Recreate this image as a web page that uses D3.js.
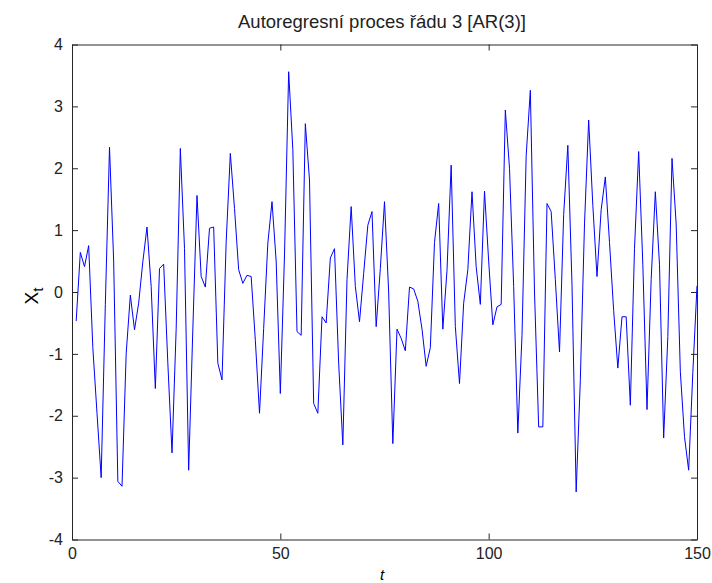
<!DOCTYPE html>
<html lang="cs">
<head>
    <meta charset="utf-8">
    <script src="https://cdn.jsdelivr.net/npm/d3@7"></script>
    <style>
        body { margin: 0; background: white; }
        text { font-family: "Liberation Sans", Arial, sans-serif; fill: #000; }
        .axis path, .axis line { stroke: #262626; stroke-width: 1px; }
        .axis text { font-size: 16px; fill: #222; }
        .series { fill: none; stroke: #0000ff; stroke-width: 1px; }
    </style>
</head>
<body>
<script>
    // hodnoty X_t pro t = 1..150
    const values = [
        -0.47, 0.64, 0.41, 0.75, -0.9, -1.96, -3.0, -0.2, 2.34, 0.5,
        -3.06, -3.14, -1.0, -0.05, -0.61, -0.18, 0.49, 1.05, 0.09, -1.56,
        0.38, 0.45, -1.15, -2.6, -0.6, 2.32, 0.7, -2.88, -0.6, 1.56,
        0.25, 0.08, 1.03, 1.05, -1.15, -1.42, 0.81, 2.24, 1.35, 0.36,
        0.14, 0.27, 0.25, -0.78, -1.96, -0.59, 0.79, 1.46, 0.5, -1.64,
        0.6, 3.56, 2.3, -0.64, -0.7, 2.72, 1.81, -1.8, -1.96, -0.4,
        -0.5, 0.55, 0.7, -1.15, -2.47, 0.2, 1.38, 0.09, -0.48, 0.3,
        1.08, 1.3, -0.56, 0.38, 1.46, 0.0, -2.45, -0.6, -0.75, -0.95,
        0.08, 0.05, -0.15, -0.6, -1.2, -0.9, 0.8, 1.43, -0.6, 0.35,
        2.05, -0.56, -1.48, -0.18, 0.36, 1.62, 0.41, -0.2, 1.63, 0.5,
        -0.53, -0.24, -0.2, 2.94, 2.0, 0.09, -2.28, -0.7, 2.2, 3.26,
        0.0, -2.18, -2.18, 1.43, 1.3, 0.2, -0.97, 1.25, 2.37, 0.11,
        -3.23, -1.42, 1.1, 2.78, 1.4, 0.25, 1.33, 1.86, 0.8, -0.3,
        -1.23, -0.4, -0.4, -1.83, 0.7, 2.27, 0.44, -1.9, 0.2, 1.62,
        0.44, -2.36, -0.72, 2.16, 1.1, -1.29, -2.34, -2.88, -1.3, 0.1
    ];
    const xTicks = [0, 50, 100, 150];
    const yTicks = [-4, -3, -2, -1, 0, 1, 2, 3, 4];
    const title = "Autoregresní proces řádu 3 [AR(3)]";

    const W = 712, H = 583;
    const pLeft = 72, pRight = 697, pTop = 44.5, pBottom = 539.5;

    let svg = d3.select("body").append("svg")
        .attr("width", W).attr("height", H);

    let x = d3.scaleLinear().domain([0, 150]).range([pLeft, pRight]);
    let y = d3.scaleLinear().domain([-4, 4]).range([pBottom, pTop]);
    let fmt = function (d) { return String(d); };   // obyčejný spojovník místo U+2212

    // osy - ticky dovnitř jako v MATLABu
    svg.append("g").attr("class", "axis")
        .attr("transform", "translate(0," + pBottom + ")")
        .call(d3.axisBottom(x).tickValues(xTicks).tickFormat(fmt).tickSizeInner(-6).tickSizeOuter(0).tickPadding(8));
    svg.append("g").attr("class", "axis")
        .attr("transform", "translate(0," + pTop + ")")
        .call(d3.axisTop(x).tickValues(xTicks).tickSizeInner(-6).tickSizeOuter(0).tickFormat(""));
    svg.append("g").attr("class", "axis")
        .attr("transform", "translate(" + pLeft + ",0)")
        .call(d3.axisLeft(y).tickValues(yTicks).tickFormat(fmt).tickSizeInner(-6).tickSizeOuter(0).tickPadding(9));
    svg.append("g").attr("class", "axis")
        .attr("transform", "translate(" + pRight + ",0)")
        .call(d3.axisRight(y).tickValues(yTicks).tickSizeInner(-6).tickSizeOuter(0).tickFormat(""));

    let line = d3.line()
        .x(function (d, i) { return x(i + 1); })
        .y(function (d) { return y(d); });

    svg.append("path").datum(values)
        .attr("class", "series")
        .attr("d", line);

    svg.append("text")
        .attr("x", 382).attr("y", 28)
        .attr("text-anchor", "middle")
        .style("font-size", "18.5px")
        .style("fill", "#222")
        .text(title);

    svg.append("text")
        .attr("x", 382).attr("y", 580)
        .attr("text-anchor", "middle")
        .style("font-size", "15px").style("font-style", "italic")
        .text("t");

    let yl = svg.append("text")
        .attr("transform", "translate(38," + (y(0) + 4) + ") rotate(-90)")
        .attr("text-anchor", "middle")
        .style("font-size", "19px");
    yl.append("tspan").text("X");
    yl.append("tspan").attr("dy", "5").style("font-size", "15px").text("t");
</script>
</body>
</html>
